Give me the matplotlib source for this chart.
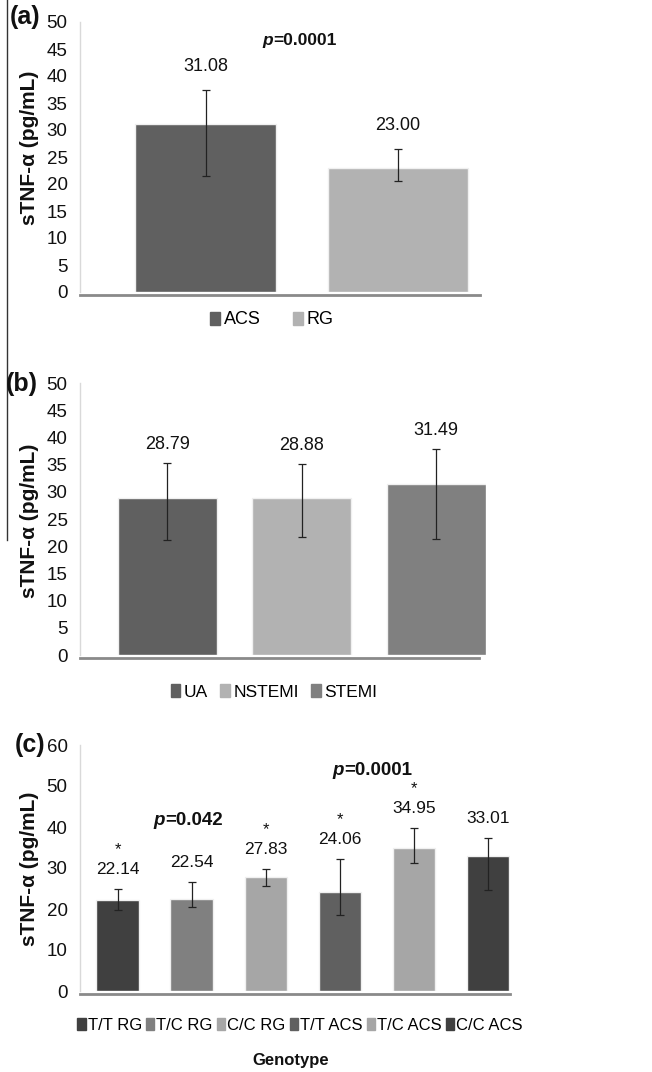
import matplotlib
matplotlib.use("Agg")
import matplotlib.pyplot as plt
from matplotlib.lines import Line2D
from matplotlib.patches import Patch

plt.rcParams['font.family'] = ['Liberation Sans', 'DejaVu Sans']

# ---------------- data ----------------
a_groups = ["ACS", "RG"]
a_values = [31.08, 23.00]
a_err_hi = [37.4, 26.5]
a_err_lo = [21.5, 20.6]
a_colors = ["#606060", "#b2b2b2"]

b_groups = ["UA", "NSTEMI", "STEMI"]
b_values = [28.79, 28.88, 31.49]
b_err_hi = [35.3, 35.1, 37.9]
b_err_lo = [21.1, 21.7, 21.3]
b_colors = ["#606060", "#b2b2b2", "#808080"]

c_groups = ["T/T RG", "T/C RG", "C/C RG", "T/T ACS", "T/C ACS", "C/C ACS"]
c_values = [22.14, 22.54, 27.83, 24.06, 34.95, 33.01]
c_err_hi = [24.9, 26.6, 29.8, 32.2, 39.8, 37.4]
c_err_lo = [19.8, 20.5, 25.6, 18.5, 31.3, 24.6]
c_star = [True, False, True, True, True, False]
c_colors = ["#404040", "#808080", "#a6a6a6", "#606060", "#a6a6a6", "#404040"]

ylabel = "sTNF-\u03b1 (pg/mL)"

W, H = 652, 1072
fig = plt.figure(figsize=(W / 100, H / 100), dpi=100)


def fx(px):
    return px / W


def fy(py):
    return 1 - py / H


def make_axes(left, right, top, bottom):
    return fig.add_axes([fx(left), fy(bottom), fx(right) - fx(left), fy(top) - fy(bottom)])


def style(ax, ymax, step, xlim, spine_bounds=None):
    ax.set_ylim(0, ymax)
    ax.set_xlim(*xlim)
    ax.set_yticks(range(0, ymax + 1, step))
    ax.tick_params(axis='y', length=0, pad=9, labelsize=13.5, labelcolor='#111111')
    ax.set_xticks([])
    for s in ['top', 'right']:
        ax.spines[s].set_visible(False)
    ax.spines['left'].set_color('#d9d9d9')
    ax.spines['left'].set_linewidth(1.0)
    ax.spines['bottom'].set_color('#8a8a8a')
    ax.spines['bottom'].set_linewidth(2.0)
    ax.spines['bottom'].set_position(('outward', 2))
    if spine_bounds is not None:
        ax.spines['bottom'].set_bounds(*spine_bounds)


def bars(ax, values, hi, lo, colors, width):
    x = list(range(len(values)))
    yerr = [[v - l for v, l in zip(values, lo)], [h - v for v, h in zip(values, hi)]]
    ax.bar(x, values, width=width, color=colors, edgecolor='#f0f0f0', linewidth=1.0, zorder=2)
    ax.errorbar(x, values, yerr=yerr, fmt='none', ecolor='#222222', elinewidth=0.9,
                capsize=3, capthick=0.9, zorder=3)
    return x


def ptext(ax, x, y, rest, size):
    t = ax.text(x, y, "p", fontsize=size, fontweight='bold', style='italic',
                ha='right', va='center', color='#111111')
    ax.annotate(rest, xy=(1, 0), xycoords=t, va='bottom', ha='left',
                fontsize=size, fontweight='bold', color='#111111')


# ---------------- panel (a) ----------------
axa = make_axes(80, 480, 22, 292)
style(axa, 50, 5, (-0.652, 1.426))
xa = bars(axa, a_values, a_err_hi, a_err_lo, a_colors, 0.73)
for xi, v, h in zip(xa, a_values, a_err_hi):
    axa.text(xi, h + 2.8, f"{v:.2f}", ha='center', va='bottom', fontsize=13, color='#111111')
ptext(axa, 0.35, 46.5, "=0.0001", 12.5)
fig.legend(handles=[Patch(color=c, label=g) for g, c in zip(a_groups, a_colors)],
           loc='center', bbox_to_anchor=(fx(272), fy(320)), ncol=2, frameon=False,
           fontsize=13, handlelength=0.55, handleheight=0.75, handletextpad=0.2,
           columnspacing=1.8)

# ---------------- panel (b) ----------------
axb = make_axes(80, 486, 383, 655)
style(axb, 50, 5, (-0.65, 2.37), spine_bounds=(-0.65, 2.32))
xb = bars(axb, b_values, b_err_hi, b_err_lo, b_colors, 0.736)
for xi, v, h in zip(xb, b_values, b_err_hi):
    axb.text(xi, h + 1.8, f"{v:.2f}", ha='center', va='bottom', fontsize=13, color='#111111')
fig.legend(handles=[Patch(color=c, label=g) for g, c in zip(b_groups, b_colors)],
           loc='center', bbox_to_anchor=(fx(274), fy(692)), ncol=3, frameon=False,
           fontsize=12.5, handlelength=0.55, handleheight=0.75, handletextpad=0.2,
           columnspacing=0.7)

# ---------------- panel (c) ----------------
axc = make_axes(80, 510, 745, 991)
style(axc, 60, 10, (-0.507, 5.30))
xc = bars(axc, c_values, c_err_hi, c_err_lo, c_colors, 0.57)
for xi, v, h, s in zip(xc, c_values, c_err_hi, c_star):
    ty = max(h, v) + 2.8
    axc.text(xi, ty, f"{v:.2f}", ha='center', va='bottom', fontsize=12.5, color='#111111')
    if s:
        axc.text(xi, ty + 5.0, "*", ha='center', va='bottom', fontsize=12, color='#111111')
ptext(axc, 0.64, 41.7, "=0.042", 13.5)
ptext(axc, 3.06, 53.9, "=0.0001", 13.5)
fig.legend(handles=[Patch(color=c, label=g) for g, c in zip(c_groups, c_colors)],
           loc='center', bbox_to_anchor=(fx(300), fy(1025)), ncol=6, frameon=False,
           fontsize=12, handlelength=0.5, handleheight=0.75, handletextpad=0.12,
           columnspacing=0.25)
fig.text(fx(291), fy(1061), "Genotype", ha='center', va='center', fontsize=12,
         fontweight='bold', color='#111111')

# ---------------- y labels & panel tags ----------------
for yc in (148, 521, 869):
    fig.text(fx(30), fy(yc), ylabel, rotation=90, ha='center', va='center',
             fontsize=15, fontweight='bold', color='#111111')
for tag, x, y in (("(a)", 25, 17), ("(b)", 22, 384), ("(c)", 30, 745)):
    fig.text(fx(x), fy(y), tag, ha='center', va='center', fontsize=18,
             fontweight='bold', color='#111111')

# left border artifact line
fig.add_artist(Line2D([fx(7), fx(7)], [fy(0), fy(540)], color='#333333', linewidth=1.0))

fig.savefig("out.png", dpi=100)
